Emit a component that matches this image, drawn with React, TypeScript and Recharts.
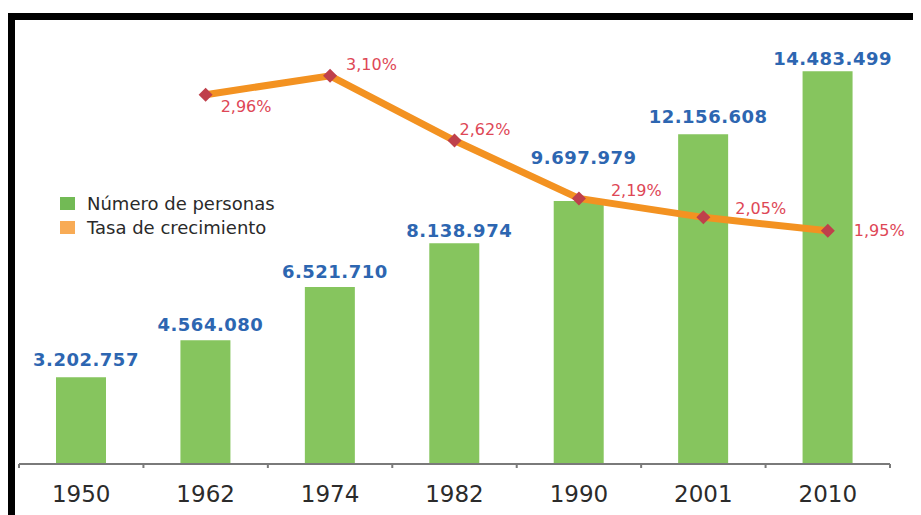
import React from "react";
import {
  ComposedChart,
  Bar,
  Line,
  XAxis,
  YAxis,
  Legend,
  LabelList,
} from "recharts";

const years = ["1950", "1962", "1974", "1982", "1990", "2001", "2010"];
const personas = [3202757, 4564080, 6521710, 8138974, 9697979, 12156608, 14483499];
const tasa = [null, 2.96, 3.1, 2.62, 2.19, 2.05, 1.95];

const data = years.map((year, i) => ({ year, personas: personas[i], tasa: tasa[i] }));

// where each growth label sits relative to its marker
const rateLabelOffsets = [
  [0, 0],
  [15, 17],
  [16, -6],
  [5, -6],
  [32, -2],
  [32, -3],
  [26, 5],
];
// gap between bar top and its value label (1990 is lifted over the line)
const barLabelGaps = [11, 9, 9, 6, 37, 11, 6];

const W = 913;
const H = 507;
const margin = { top: 22, right: 31, left: 11, bottom: 11 };
const band = (W - margin.left - margin.right) / years.length;

const GREEN = "#86c55e";
const ORANGE = "#f39221";
const MARKER = "#bf404b";
const RED_TEXT = "#de4756";
const BLUE_TEXT = "#2d66b1";
const FONT = "DejaVu Sans, sans-serif";

const fmtPersonas = (v: number) =>
  String(v).replace(/\B(?=(\d{3})+(?!\d))/g, ".");
const fmtTasa = (v: number) => v.toFixed(2).replace(".", ",") + "%";

const YearTick = (props: any) => {
  const { x, y, payload, index } = props;
  const axisY = y - 8;
  return (
    <g>
      {index === 0 && (
        <line x1={x - band / 2} x2={x - band / 2} y1={axisY} y2={axisY + 4} stroke="#7a7a7a" strokeWidth={2} />
      )}
      <line x1={x + band / 2} x2={x + band / 2} y1={axisY} y2={axisY + 4} stroke="#7a7a7a" strokeWidth={2} />
      <text x={x} y={axisY + 38} textAnchor="middle" fontFamily={FONT} fontSize={23} fill="#2b2b2b">
        {payload.value}
      </text>
    </g>
  );
};

const Diamond = (props: any) => {
  const { cx, cy, value } = props;
  if (value == null || cx == null || cy == null) return null;
  const r = 7;
  return (
    <path
      key={`d-${props.index}`}
      d={`M${cx},${cy - r} L${cx + r},${cy} L${cx},${cy + r} L${cx - r},${cy} Z`}
      fill={MARKER}
    />
  );
};

const RateLabel = (props: any) => {
  const { x, y, value, index } = props;
  if (value == null || x == null || y == null) return null;
  const [dx, dy] = rateLabelOffsets[index] || [10, -6];
  return (
    <text x={x + dx} y={y + dy} fontFamily={FONT} fontSize={16} fill={RED_TEXT}>
      {fmtTasa(value)}
    </text>
  );
};

const PersonasLabel = (props: any) => {
  const { x, y, width, value, index } = props;
  if (value == null) return null;
  return (
    <text
      x={x + width / 2 + 5}
      y={y - (barLabelGaps[index] ?? 8)}
      textAnchor="middle"
      fontFamily={FONT}
      fontSize={18}
      fontWeight={700}
      letterSpacing={0.5}
      fill={BLUE_TEXT}
    >
      {fmtPersonas(Number(value))}
    </text>
  );
};

const legendItems = [
  { label: "Número de personas", color: "#72ba55" },
  { label: "Tasa de crecimiento", color: "#f8ab55" },
];

const LegendBox = () => (
  <div style={{ fontFamily: FONT, fontSize: 18, color: "#2a2a2a" }}>
    {legendItems.map((item) => (
      <div key={item.label} style={{ display: "flex", alignItems: "center", height: 24 }}>
        <span style={{ width: 15, height: 13, background: item.color, marginRight: 12, display: "inline-block" }} />
        <span>{item.label}</span>
      </div>
    ))}
  </div>
);

export default function App() {
  return (
    <div style={{ position: "relative", width: W, height: H, background: "#fff" }}>
      <ComposedChart width={W} height={H} data={data} margin={margin}>
        <XAxis
          dataKey="year"
          height={40}
          axisLine={{ stroke: "#7a7a7a", strokeWidth: 2 }}
          tickLine={false}
          tick={<YearTick />}
          interval={0}
        />
        <YAxis yAxisId="left" hide domain={[0, 16000000]} />
        <YAxis yAxisId="right" hide orientation="right" domain={[0.22, 3.44]} />
        <Legend
          verticalAlign="middle"
          align="center"
          layout="horizontal"
          content={<LegendBox />}
          wrapperStyle={{ left: 52, top: 183, width: 260 }}
        />
        <Bar
          yAxisId="left"
          dataKey="personas"
          name="Número de personas"
          fill={GREEN}
          barSize={50}
          isAnimationActive={false}
        >
          <LabelList dataKey="personas" content={<PersonasLabel />} />
        </Bar>
        <Line
          yAxisId="right"
          dataKey="tasa"
          name="Tasa de crecimiento"
          stroke={ORANGE}
          strokeWidth={7}
          dot={<Diamond />}
          activeDot={false}
          isAnimationActive={false}
        >
          <LabelList dataKey="tasa" content={<RateLabel />} />
        </Line>
      </ComposedChart>
      {/* black frame along the top and left edge */}
      <div style={{ position: "absolute", left: 0, top: 5, width: W, height: 7, background: "#000" }} />
      <div style={{ position: "absolute", left: 0, top: 5, width: 7, height: H - 5, background: "#000" }} />
    </div>
  );
}
